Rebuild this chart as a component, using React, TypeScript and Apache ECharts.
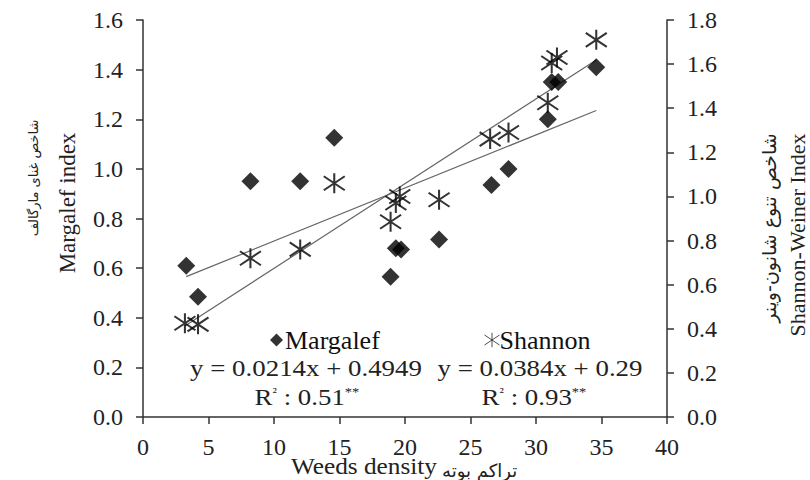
import React, { useEffect, useRef } from "react";
import * as echarts from "echarts";

const xMargalef = [3.3, 4.2, 8.2, 12.0, 14.6, 18.9, 19.3, 19.7, 22.6, 26.6, 27.9, 30.9, 31.2, 31.7, 34.6];
const yMargalef = [0.61, 0.485, 0.95, 0.95, 1.125, 0.565, 0.68, 0.675, 0.715, 0.935, 1.0, 1.2, 1.35, 1.35, 1.41];
const xShannon = [3.2, 4.2, 8.2, 12.0, 14.6, 18.9, 19.3, 19.6, 22.6, 26.5, 27.9, 30.9, 31.2, 31.6, 34.6];
const yShannon = [0.425, 0.42, 0.72, 0.76, 1.06, 0.885, 0.97, 1.0, 0.985, 1.26, 1.29, 1.425, 1.605, 1.63, 1.71];

// trendline coefficients as printed on the chart
const margalefFit = { slope: 0.0214, intercept: 0.4949 };
const shannonFit = { slope: 0.0384, intercept: 0.29 };

const equationTexts = ["y = 0.0214x + 0.4949", "y = 0.0384x + 0.29"];
const r2Values = ["0.51", "0.93"];

const SERIF = "Liberation Serif";
const ARABIC = "DejaVu Sans";
const STAR = "path://M10.5,0 L10.5,20 M0,3 L21,17 M0,17 L21,3";

function trend(xs: number[], fit: { slope: number; intercept: number }) {
  const lo = Math.min(...xs);
  const hi = Math.max(...xs);
  return [
    [lo, fit.slope * lo + fit.intercept],
    [hi, fit.slope * hi + fit.intercept],
  ];
}

export default function App() {
  const ref = useRef<HTMLDivElement>(null);
  useEffect(() => {
    if (!ref.current) return;
    const chart = echarts.init(ref.current, null, { renderer: "svg" });
    const axisLine = { show: true, lineStyle: { color: "#333", width: 1.5 } };
    const axisTick = { show: true, length: 7, inside: false, lineStyle: { color: "#333", width: 1.5 } };
    const labelStyle = { fontFamily: SERIF, fontSize: 24, color: "#222" };
    const r2Rich = { s: { fontSize: 13, fontFamily: SERIF, verticalAlign: "top", fill: "#222" } };
    chart.setOption({
      animation: false,
      backgroundColor: "#fff",
      textStyle: { fontFamily: SERIF },
      grid: { left: 143, right: 143, top: 20, bottom: 63 },
      xAxis: {
        type: "value",
        min: 0,
        max: 40,
        interval: 5,
        axisLine: { ...axisLine, onZero: false },
        axisTick,
        splitLine: { show: false },
        axisLabel: { ...labelStyle, margin: 18 },
      },
      yAxis: [
        {
          type: "value",
          min: 0,
          max: 1.6,
          interval: 0.2,
          position: "left",
          axisLine,
          axisTick,
          splitLine: { show: false },
          axisLabel: { ...labelStyle, margin: 20, formatter: (v: number) => v.toFixed(1) },
        },
        {
          type: "value",
          min: 0,
          max: 1.8,
          interval: 0.2,
          position: "right",
          axisLine,
          axisTick,
          splitLine: { show: false },
          axisLabel: { ...labelStyle, margin: 20, formatter: (v: number) => v.toFixed(1) },
        },
      ],
      legend: [
        {
          data: [{ name: "Margalef", icon: "diamond" }],
          left: 265,
          top: 322,
          itemWidth: 13,
          itemHeight: 13,
          itemGap: 2,
          textStyle: { fontFamily: SERIF, fontSize: 26, color: "#111", padding: [0, 0, 0, -3] },
        },
        {
          data: [{ name: "Shannon", icon: STAR }],
          left: 477,
          top: 322,
          itemWidth: 15,
          itemHeight: 15,
          itemGap: 2,
          itemStyle: { color: "none", borderColor: "#222", borderWidth: 1 },
          textStyle: { fontFamily: SERIF, fontSize: 26, color: "#111", padding: [0, 0, 0, -5] },
        },
      ],
      series: [
        {
          name: "Margalef trend",
          type: "line",
          yAxisIndex: 0,
          data: trend(xMargalef, margalefFit),
          symbol: "none",
          lineStyle: { color: "#666", width: 1.2 },
          z: 1,
        },
        {
          name: "Shannon trend",
          type: "line",
          yAxisIndex: 1,
          data: trend(xShannon, shannonFit),
          symbol: "none",
          lineStyle: { color: "#666", width: 1.2 },
          z: 1,
        },
        {
          name: "Margalef",
          type: "scatter",
          yAxisIndex: 0,
          symbol: "diamond",
          symbolSize: [18, 18],
          itemStyle: { color: "#000" },
          data: xMargalef.map((x, i) => [x, yMargalef[i]]),
          z: 3,
        },
        {
          name: "Shannon",
          type: "scatter",
          yAxisIndex: 1,
          symbol: STAR,
          symbolSize: [21, 20],
          itemStyle: { color: "none", borderColor: "#000", borderWidth: 2 },
          data: xShannon.map((x, i) => [x, yShannon[i]]),
          z: 3,
        },
      ],
      graphic: [
        {
          type: "text",
          x: 306,
          y: 368,
          scaleX: 1.12,
          style: { text: equationTexts[0], font: `24px ${SERIF}`, fill: "#222", align: "center", verticalAlign: "middle" },
        },
        {
          type: "text",
          x: 307,
          y: 397,
          scaleX: 1.12,
          style: {
            text: `R{s|²} : ${r2Values[0]}{s|**}`,
            font: `24px ${SERIF}`,
            fill: "#222",
            align: "center",
            verticalAlign: "middle",
            rich: r2Rich,
          },
        },
        {
          type: "text",
          x: 540,
          y: 368,
          scaleX: 1.12,
          style: { text: equationTexts[1], font: `24px ${SERIF}`, fill: "#222", align: "center", verticalAlign: "middle" },
        },
        {
          type: "text",
          x: 534,
          y: 397,
          scaleX: 1.12,
          style: {
            text: `R{s|²} : ${r2Values[1]}{s|**}`,
            font: `24px ${SERIF}`,
            fill: "#222",
            align: "center",
            verticalAlign: "middle",
            rich: r2Rich,
          },
        },
        {
          type: "text",
          x: 67,
          y: 203,
          rotation: Math.PI / 2,
          style: { text: "Margalef index", font: `23px ${SERIF}`, fill: "#222", align: "center", verticalAlign: "middle" },
        },
        {
          type: "text",
          x: 33,
          y: 178,
          rotation: Math.PI / 2,
          style: { text: "شاخص غنای مارگالف", font: `13px ${ARABIC}`, fill: "#222", align: "center", verticalAlign: "middle" },
        },
        {
          type: "text",
          x: 797,
          y: 235,
          rotation: Math.PI / 2,
          style: { text: "Shannon-Weiner Index", font: `22px ${SERIF}`, fill: "#222", align: "center", verticalAlign: "middle" },
        },
        {
          type: "text",
          x: 769,
          y: 228,
          rotation: Math.PI / 2,
          style: { text: "شاخص تنوع شانون-وینر", font: `19px ${ARABIC}`, fill: "#222", align: "center", verticalAlign: "middle" },
        },
        {
          type: "text",
          x: 437,
          y: 466,
          scaleX: 1.1,
          style: { text: "Weeds density", font: `23px ${SERIF}`, fill: "#222", align: "right", verticalAlign: "middle" },
        },
        {
          type: "text",
          x: 442,
          y: 470,
          style: { text: "تراکم بوته", font: `18px ${ARABIC}`, fill: "#222", align: "left", verticalAlign: "middle" },
        },
      ],
    });
    return () => chart.dispose();
  }, []);
  return (
    <div
      ref={ref}
      style={{ position: "fixed", left: 0, top: 0, width: 810, height: 480, background: "#fff" }}
    />
  );
}
